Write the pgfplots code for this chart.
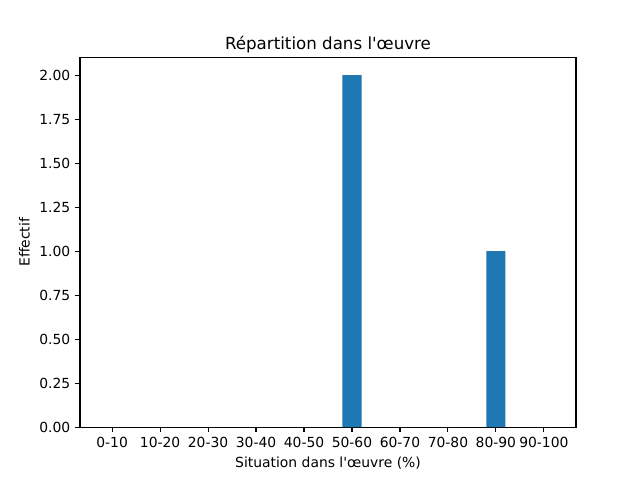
\documentclass[border=0pt]{standalone}
\usepackage{fontspec}
\setmainfont{DejaVu Sans}[Ligatures=TeXOff]
\usepackage{pgfplots}
\pgfplotsset{compat=1.18}
\definecolor{mplblue}{HTML}{1F77B4}

\begin{document}
\begin{tikzpicture}
\useasboundingbox (0,0) rectangle (460.8pt,345.6pt);
\begin{axis}[
  at={(57.6pt,38.016pt)}, anchor=south west,
  width=357.12pt, height=266.112pt, scale only axis,
  xmin=-0.67, xmax=9.67, ymin=0, ymax=2.1,
  xtick={0,1,2,3,4,5,6,7,8,9},
  xticklabels={0-10,10-20,20-30,30-40,40-50,50-60,60-70,70-80,80-90,90-100},
  ytick={0,0.25,0.5,0.75,1,1.25,1.5,1.75,2},
  yticklabel style={/pgf/number format/.cd,fixed,fixed zerofill,precision=2},
  /pgf/number format/assume math mode=true,
  tick pos=left, tick align=outside, major tick length=3.5pt,
  tick style={line width=0.8pt, black},
  axis line style={line width=0.8pt},
  ticklabel style={font=\fontsize{10}{12}\selectfont},
  label style={font=\fontsize{10}{12}\selectfont},
  title style={font=\fontsize{12}{14}\selectfont, at={(0.5,1)}, anchor=base, yshift=-0.5pt, inner sep=0pt},
  title={Répartition dans l'œuvre},
  xlabel={Situation dans l'œuvre (\%)},
  ylabel={Effectif},
]
\addplot[ybar, bar width=0.4, bar shift=0pt, fill=mplblue, draw=none]
  coordinates {(0,0) (1,0) (2,0) (3,0) (4,0) (5,2) (6,0) (7,0) (8,1) (9,0)};
\end{axis}
\end{tikzpicture}
\end{document}
